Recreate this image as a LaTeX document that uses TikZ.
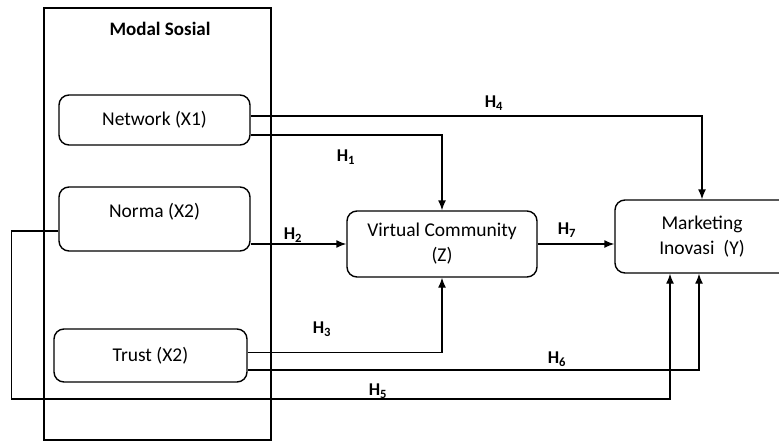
\documentclass[tikz,border=0pt]{standalone}
\usepackage{fontspec}
\setmainfont{Carlito}
\usepackage{tikz}
\usetikzlibrary{positioning, arrows, arrows.meta}

\newcommand{\hlab}[1]{\textbf{H\textsubscript{#1}}}

\tikzset{varbox/.style={draw, rounded corners=10pt, line width=1.4pt,
    align=center, font=\fontsize{19.5}{25}\selectfont},
  hyp/.style={font=\fontsize{18}{20}\selectfont, inner sep=0pt},
  link/.style={-{Latex[length=10pt, width=8pt]}, line width=1.4pt}}

\begin{document}
\begin{tikzpicture}[x=1pt, y=-1pt]
          \useasboundingbox (0,0) rectangle (779,441);%
          \node [draw, line width=1.3pt, minimum width=227pt, minimum
          height=432pt] (ms) at (157.5,224) {};%
          \node [font=\fontsize{19}{22}\selectfont\bfseries] (mstitle) at
          (160,29) {Modal Sosial};%

          \node [varbox, minimum width=191pt, minimum height=50pt] (net) at
          (154.5,120) {Network (X1)};%
          \node [varbox, minimum width=191pt, minimum height=64pt, text
          depth=18pt] (norma) at (154.5,219) {Norma (X2)};%
          \node [varbox, minimum width=193pt, minimum height=53pt] (trust) at
          (150.5,355.5) {Trust (X2)};%

          \node [varbox, minimum width=190pt, minimum height=66pt] (vc) at
          (442,244) {Virtual Community\\(Z)};%
          \node [varbox, minimum width=174pt, minimum height=73pt] (mi) at
          (702,236.5) {Marketing\\Inovasi\ \ (Y)};%

          \draw [link] ([yshift=4pt]net.east) -| (mi.north);%
          \draw [link] ([yshift=-15pt]net.east) -| (vc.north);%
          \draw [link] ([yshift=-25pt]norma.east) -- (vc.west);%
          \draw [link] (vc.east) -- (vc.east -| mi.west);%
          \draw [link] ([yshift=3pt]trust.east) -| (vc.south);%
          \draw [link] ([yshift=-14.5pt]trust.east) -| ([xshift=-3pt]mi.south);%
          \draw [link] ([yshift=-12pt]norma.west) -| ++(-47,168) -|
          ([xshift=-32pt]mi.south);%

          \node [hyp] (h4) at (494,103) {\hlab{4}};%
          \node [hyp] (h1) at (346,157) {\hlab{1}};%
          \node [hyp] (h2) at (293,235) {\hlab{2}};%
          \node [hyp] (h7) at (567,230) {\hlab{7}};%
          \node [hyp] (h3) at (322,329) {\hlab{3}};%
          \node [hyp] (h6) at (557,359) {\hlab{6}};%
          \node [hyp] (h5) at (378,391) {\hlab{5}};%

        \end{tikzpicture}
\end{document}
